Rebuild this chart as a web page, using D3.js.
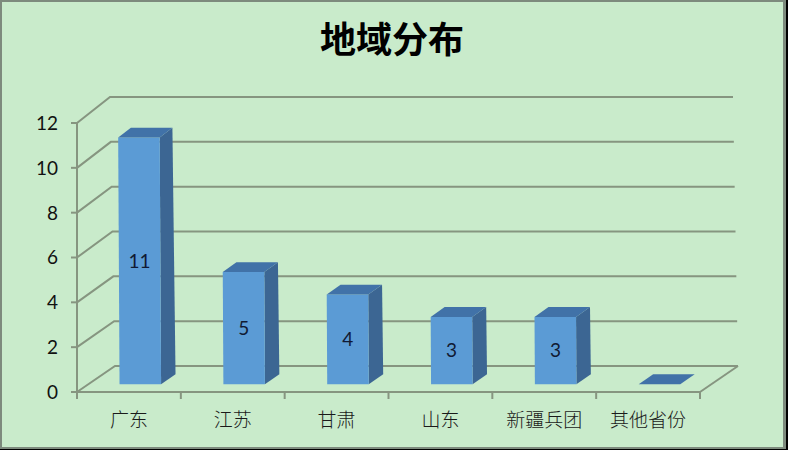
<!DOCTYPE html>
<html>
<head>
<meta charset="utf-8">
<script src="https://cdn.jsdelivr.net/npm/d3@7/dist/d3.min.js"></script>
<style>
  html, body { margin: 0; padding: 0; background: #000; }
  svg { display: block; }
</style>
</head>
<body>
<script>
// Regional distribution data
const categories = ["广东", "江苏", "甘肃", "山东", "新疆兵团", "其他省份"];
const values = [11, 5, 4, 3, 3, 0];
const yTicks = [0, 2, 4, 6, 8, 10, 12];
const title = "地域分布";

const W = 788, H = 450;
const svg = d3.select("body").append("svg").attr("width", W).attr("height", H);

// frame
svg.append("rect").attr("x", 0).attr("y", 0).attr("width", 786).attr("height", 449).attr("fill", "#7d8a7d");
svg.append("rect").attr("x", 2).attr("y", 2).attr("width", 781).attr("height", 445).attr("fill", "#c9ebcb");

// title
svg.append("text")
  .attr("x", 392).attr("y", 53)
  .attr("text-anchor", "middle")
  .attr("font-family", "'Noto Sans CJK SC', sans-serif")
  .attr("font-weight", 700)
  .attr("font-size", 36)
  .attr("fill", "#000")
  .text(title);

// front plane scales
const x = d3.scaleBand().domain(categories).range([77, 700]).paddingInner(0).paddingOuter(0);
const xBar = d3.scaleBand().domain(categories).range([77, 700]).paddingInner(0.6).paddingOuter(0.3);
const y = d3.scaleLinear().domain([0, 12]).range([392, 123]);

// depth projection: z = 0 is the front plane, z = 1 the back wall
const DY = -26;
const DX = v => 38 - 5 * v / 12;
const P = (xv, v, z) => [xv + z * DX(v), y(v) + z * DY];

const gridColor = "#869580";
const grid = svg.append("g").attr("stroke", gridColor).attr("stroke-width", 2).attr("fill", "none");

// back wall gridlines and their floor/left-wall diagonals
yTicks.forEach(v => {
  const a = P(77, v, 0), b = P(77, v, 1), c = P(700, v, 1);
  grid.append("path").attr("d", d3.line()([a, b, c]));
});
// floor right edge and front edge
grid.append("path").attr("d", d3.line()([P(700, 0, 0), P(700, 0, 1)]));
grid.append("path").attr("d", d3.line()([P(77, 0, 0), P(700, 0, 0)]));
// value axis
grid.append("path").attr("d", d3.line()([P(77, 0, 0), P(77, 12, 0)]));

// value ticks and labels
yTicks.forEach(v => {
  grid.append("line").attr("x1", 71).attr("x2", 77).attr("y1", y(v)).attr("y2", y(v));
});
svg.append("g").selectAll("text").data(yTicks).join("text")
  .attr("x", 58).attr("y", d => y(d))
  .attr("dy", "0.36em")
  .attr("text-anchor", "end")
  .attr("font-family", "Lato, 'Open Sans', sans-serif")
  .attr("font-size", 19)
  .attr("fill", "#111")
  .text(d => d);

// category ticks
const bounds = categories.map(c => x(c)).concat([x(categories[categories.length - 1]) + x.bandwidth()]);
bounds.forEach(b => {
  grid.append("line").attr("x1", b).attr("x2", b).attr("y1", 392).attr("y2", 399);
});
svg.append("g").selectAll("text").data(categories).join("text")
  .attr("x", d => x(d) + x.bandwidth() / 2)
  .attr("y", 427)
  .attr("text-anchor", "middle")
  .attr("font-family", "'Noto Sans CJK SC', sans-serif")
  .attr("font-weight", 300)
  .attr("font-size", 19)
  .attr("fill", "#1a1a1a")
  .text(d => d);

// 3D bars
const z0 = 0.3, z1 = 0.68;
const bars = svg.append("g");
categories.forEach((c, i) => {
  const v = values[i];
  const xl = xBar(c), xr = xBar(c) + xBar.bandwidth();
  const g = bars.append("g");
  if (v > 0) {
    // side face
    g.append("path")
      .attr("d", d3.line()([P(xr, 0, z0), P(xr, 0, z1), P(xr, v, z1), P(xr, v, z0)]) + "Z")
      .attr("fill", "#3c6693");
    // front face
    g.append("path")
      .attr("d", d3.line()([P(xl, 0, z0), P(xr, 0, z0), P(xr, v, z0), P(xl, v, z0)]) + "Z")
      .attr("fill", "#5b9bd5");
  }
  // top face
  g.append("path")
    .attr("d", d3.line()([P(xl, v, z0), P(xr, v, z0), P(xr, v, z1), P(xl, v, z1)]) + "Z")
    .attr("fill", "#4172a8");
  if (v > 0) {
    const fl = P(xl, 0, z0), fr = P(xr, v, z0);
    g.append("text")
      .attr("x", (fl[0] + fr[0]) / 2)
      .attr("y", (fl[1] + fr[1]) / 2)
      .attr("dy", "0.36em")
      .attr("text-anchor", "middle")
      .attr("font-family", "Lato, 'Open Sans', sans-serif")
      .attr("font-size", 19)
      .attr("fill", "#111a33")
      .text(v);
  }
});
</script>
</body>
</html>
